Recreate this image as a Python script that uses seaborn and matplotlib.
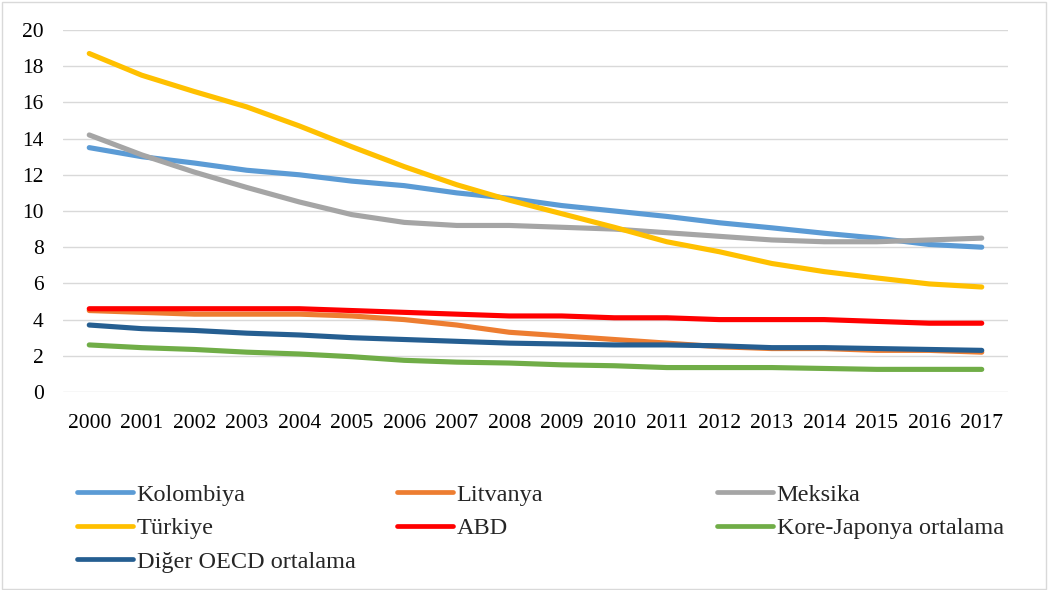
import matplotlib
matplotlib.use("Agg")
import matplotlib.pyplot as plt
from matplotlib.patches import Rectangle
from matplotlib.lines import Line2D
import seaborn as sns
import pandas as pd

years = list(range(2000, 2018))

kolombiya = [13.5, 13.0, 12.65, 12.25, 12.0, 11.65, 11.4, 11.0, 10.7, 10.3,
             10.0, 9.7, 9.35, 9.07, 8.77, 8.5, 8.15, 8.0]
litvanya = [4.5, 4.4, 4.3, 4.3, 4.3, 4.2, 4.0, 3.7, 3.3, 3.1,
            2.9, 2.7, 2.5, 2.4, 2.4, 2.3, 2.3, 2.2]
meksika = [14.2, 13.1, 12.15, 11.3, 10.5, 9.8, 9.37, 9.2, 9.2, 9.1,
           9.0, 8.8, 8.6, 8.4, 8.3, 8.3, 8.4, 8.5]
turkiye = [18.7, 17.5, 16.6, 15.75, 14.7, 13.55, 12.45, 11.45, 10.6, 9.85,
           9.1, 8.3, 7.75, 7.1, 6.65, 6.3, 5.97, 5.8]
abd = [4.6, 4.6, 4.6, 4.6, 4.6, 4.5, 4.4, 4.3, 4.2, 4.2,
       4.1, 4.1, 4.0, 4.0, 4.0, 3.9, 3.8, 3.8]
kore_japonya = [2.6, 2.45, 2.35, 2.2, 2.1, 1.95, 1.75, 1.65, 1.6, 1.5,
                1.45, 1.35, 1.35, 1.35, 1.3, 1.25, 1.25, 1.25]
diger_oecd = [3.7, 3.5, 3.4, 3.25, 3.15, 3.0, 2.9, 2.8, 2.7, 2.65,
              2.6, 2.6, 2.55, 2.45, 2.45, 2.4, 2.35, 2.3]

series_names = ["Kolombiya", "Litvanya", "Meksika", "Türkiye", "ABD",
                "Kore-Japonya ortalama", "Diğer OECD ortalama"]
series_values = [kolombiya, litvanya, meksika, turkiye, abd,
                 kore_japonya, diger_oecd]
colors = ["#5B9BD5", "#ED7D31", "#A5A5A5", "#FFC000", "#FF0000",
          "#70AD47", "#255E91"]
y_ticks = [0, 2, 4, 6, 8, 10, 12, 14, 16, 18, 20]

frames = [pd.DataFrame({"Yıl": years, "Değer": vals, "Seri": name})
          for name, vals in zip(series_names, series_values)]
df = pd.concat(frames, ignore_index=True)

sns.set_theme(style="white")
plt.rcParams["font.family"] = ["Liberation Serif", "DejaVu Serif"]

fig = plt.figure(figsize=(10.5, 5.9), dpi=100)
ax = fig.add_axes([0.06, 0.3356, 0.90, 0.6136])

sns.lineplot(data=df, x="Yıl", y="Değer", hue="Seri", hue_order=series_names,
             palette=colors, linewidth=3.7, ax=ax, legend=False,
             solid_capstyle="round", solid_joinstyle="round")

ax.set_xlim(years[0] - 0.5, years[-1] + 0.5)
ax.set_ylim(0, 20)
ax.set_xticks(years)
ax.set_xticklabels([str(y) for y in years])
ax.set_yticks(y_ticks)
ax.set_xlabel("")
ax.set_ylabel("")
ax.grid(axis="y", color="#D9D9D9", linewidth=1.0)
ax.set_axisbelow(True)
for s in ax.spines.values():
    s.set_visible(False)
ax.tick_params(axis="both", length=0, labelsize=15.5, colors="black")
ax.tick_params(axis="x", pad=16)
ax.tick_params(axis="y", pad=14)

# Legend: three evenly spaced columns, filled row by row
handles = {name: Line2D([0], [0], color=c, linewidth=3.4, solid_capstyle="round")
           for name, c in zip(series_names, colors)}
columns = [["Kolombiya", "Türkiye", "Diğer OECD ortalama"],
           ["Litvanya", "ABD"],
           ["Meksika", "Kore-Japonya ortalama"]]
col_x = [0.0733, 0.378, 0.683]
for names, x0 in zip(columns, col_x):
    fig.legend([handles[n] for n in names], names,
               loc="upper left", bbox_to_anchor=(x0, 0.180),
               frameon=False, fontsize=17.5, handlelength=2.3,
               handletextpad=0.15, labelspacing=0.47,
               borderpad=0, borderaxespad=0)

fig.patches.append(Rectangle((0.0015, 0.0025), 0.995, 0.994,
                             transform=fig.transFigure, fill=False,
                             edgecolor="#D9D9D9", linewidth=1.0))

fig.savefig("out.png", dpi=100)
